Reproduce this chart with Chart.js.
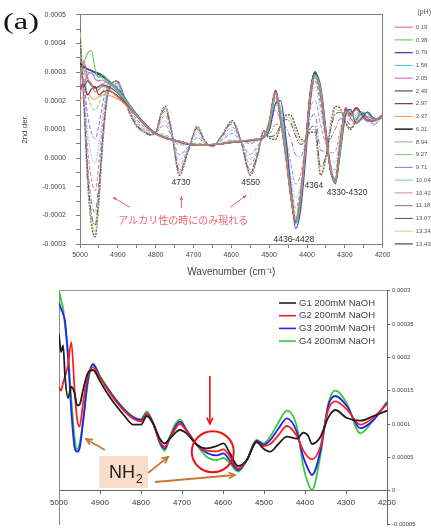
<!DOCTYPE html>
<html>
<head>
<meta charset="utf-8">
<script src="https://cdn.jsdelivr.net/npm/chart.js@4.4.1/dist/chart.umd.min.js"></script>
<style>
  html, body { margin: 0; padding: 0; background: #fff; }
  #wrap { position: relative; width: 431px; height: 532px; overflow: hidden; }
  #topChart { position: absolute; left: 0; top: 0; }
  #botChart { position: absolute; left: 0; top: 280px; }
  #tag { position: absolute; left: 3px; top: 9px; font-size: 24px; line-height: 24px;
         font-family: "Liberation Serif", serif; color: #111;
         transform: scaleX(1.35); transform-origin: 0 0; }
</style>
</head>
<body>
<div id="wrap">
  <canvas id="topChart" width="431" height="282" style="width:431px;height:282px"></canvas>
  <canvas id="botChart" width="431" height="252" style="width:431px;height:252px"></canvas>
  <div id="tag">(a)</div>
</div>
<script>
Chart.defaults.font.family = '"Liberation Sans", Arial, sans-serif';

// ---- top panel (a): 2nd derivative, values in units of 1e-4 ----
const WN_TOP = [5000, 4990, 4980, 4970, 4960, 4950, 4940, 4928, 4915, 4903, 4890, 4870, 4850, 4830, 4815, 4800, 4785, 4775, 4760, 4737, 4715, 4690, 4670, 4650, 4625, 4598, 4575, 4550, 4530, 4515, 4500, 4483, 4470, 4455, 4443, 4430, 4418, 4405, 4392, 4379, 4364, 4350, 4337, 4325, 4311, 4298, 4285, 4270, 4255, 4240, 4225, 4210, 4200];

const PH_LABELS = ['0.19', '0.38', '0.79', '1.56', '2.05', '2.49', '2.97', '3.37', '6.31', '8.94', '9.27', '9.71', '10.04', '10.42', '11.18', '13.07', '13.34', '13.43'];

const pH0_19 = [2.5, 3.4, 2.8, 2.6, 2.3, 2.4, 2.5, 2.45, 2.3, 2.15, 2.0, 1.75, 1.45, 1.18, 0.98, 0.84, 0.74, 0.69, 0.64, 0.57, 0.5, 0.45, 0.45, 0.47, 0.5, 0.55, 0.58, 0.62, 0.66, 0.74, 1.3, 2.3, 1.3, -0.1, -1.35, -2.2, -1.4, 0.3, 2.1, 2.8, 2.2, 0.8, -0.4, -0.75, 0.7, 1.75, 1.4, 1.2, 1.35, 1.45, 1.35, 1.4, 1.5];
const pH0_38 = [2.9, 3.3, 3.65, 3.75, 3.1, 2.8, 2.9, 2.75, 2.6, 2.42, 2.22, 1.86, 1.5, 1.2, 1.0, 0.85, 0.75, 0.7, 0.65, 0.58, 0.5, 0.45, 0.45, 0.47, 0.5, 0.55, 0.58, 0.62, 0.66, 0.7, 1.1, 2.3, 1.5, 0.1, -1.2, -2.2, -1.6, 0.1, 2.1, 2.9, 2.4, 0.9, -0.4, -0.85, 0.4, 1.6, 1.6, 1.3, 1.6, 1.55, 1.35, 1.35, 1.45];
const pH0_79 = [3.2, 3.15, 3.1, 3.05, 3.0, 2.95, 2.88, 2.75, 2.6, 2.45, 2.25, 1.88, 1.52, 1.22, 1.02, 0.86, 0.76, 0.7, 0.64, 0.56, 0.48, 0.44, 0.44, 0.46, 0.5, 0.54, 0.57, 0.61, 0.65, 0.7, 0.95, 1.9, 2.0, 0.6, -1.0, -2.45, -1.9, -0.2, 1.9, 2.95, 2.5, 1.0, -0.4, -0.9, 0.3, 1.5, 1.7, 1.2, 1.4, 1.6, 1.4, 1.35, 1.45];
const pH1_56 = [3.0, 3.05, 3.0, 2.95, 2.9, 2.85, 2.8, 2.68, 2.53, 2.38, 2.18, 1.84, 1.5, 1.2, 1.0, 0.85, 0.75, 0.7, 0.65, 0.58, 0.5, 0.46, 0.46, 0.48, 0.51, 0.56, 0.59, 0.63, 0.67, 0.72, 1.05, 2.1, 1.75, 0.3, -1.1, -2.3, -1.7, 0.0, 2.0, 2.85, 2.4, 0.9, -0.5, -0.85, 0.5, 1.6, 1.65, 1.25, 1.45, 1.6, 1.35, 1.35, 1.45];
const pH2_05 = [2.3, 2.6, 2.9, 3.0, 2.75, 2.7, 2.72, 2.62, 2.5, 2.36, 2.16, 1.82, 1.48, 1.19, 0.99, 0.85, 0.75, 0.7, 0.65, 0.58, 0.5, 0.45, 0.45, 0.47, 0.5, 0.55, 0.58, 0.62, 0.66, 0.72, 1.15, 2.25, 1.45, 0.05, -1.25, -2.2, -1.5, 0.15, 2.15, 2.9, 2.3, 0.8, -0.45, -0.8, 0.55, 1.65, 1.5, 1.7, 1.45, 1.3, 1.3, 1.4, 1.5];
const pH2_49 = [2.6, 2.5, 2.7, 2.55, 2.45, 2.5, 2.55, 2.5, 2.42, 2.3, 2.12, 1.8, 1.47, 1.18, 0.99, 0.85, 0.75, 0.7, 0.65, 0.58, 0.5, 0.45, 0.45, 0.47, 0.5, 0.55, 0.58, 0.62, 0.66, 0.72, 1.2, 2.35, 1.4, 0.0, -1.3, -2.2, -1.5, 0.2, 2.2, 3.0, 2.3, 0.8, -0.5, -0.8, 0.6, 1.7, 1.5, 1.75, 1.5, 1.3, 1.3, 1.4, 1.5];
const pH2_97 = [2.4, 2.6, 2.2, 2.4, 2.5, 2.2, 2.3, 2.35, 2.3, 2.2, 2.05, 1.77, 1.46, 1.17, 0.98, 0.85, 0.75, 0.7, 0.65, 0.58, 0.5, 0.45, 0.45, 0.47, 0.5, 0.55, 0.58, 0.62, 0.66, 0.72, 1.2, 2.3, 1.45, 0.05, -1.25, -2.2, -1.55, 0.15, 2.15, 2.95, 2.35, 0.85, -0.45, -0.8, 0.55, 1.75, 1.55, 1.7, 1.55, 1.3, 1.3, 1.4, 1.5];
const pH3_37 = [2.0, 2.15, 2.25, 2.1, 2.05, 2.15, 2.2, 2.2, 2.15, 2.08, 1.98, 1.74, 1.45, 1.17, 0.98, 0.85, 0.75, 0.7, 0.65, 0.58, 0.5, 0.45, 0.45, 0.47, 0.5, 0.55, 0.58, 0.62, 0.66, 0.72, 1.2, 2.3, 1.4, 0.0, -1.25, -2.15, -1.45, 0.2, 2.15, 2.9, 2.25, 0.8, -0.45, -0.75, 0.65, 1.75, 1.5, 1.75, 1.5, 1.3, 1.3, 1.4, 1.5];
const pH6_31 = [3.3, 3.2, 3.1, 3.05, 2.98, 2.92, 2.85, 2.7, 2.55, 2.4, 2.2, 1.85, 1.5, 1.2, 1.0, 0.85, 0.75, 0.7, 0.65, 0.58, 0.5, 0.45, 0.45, 0.47, 0.5, 0.55, 0.58, 0.62, 0.66, 0.72, 1.2, 2.35, 1.4, 0.0, -1.3, -2.25, -1.5, 0.2, 2.2, 3.0, 2.3, 0.8, -0.5, -0.8, 0.6, 1.7, 1.5, 1.75, 1.5, 1.3, 1.3, 1.4, 1.5];
const pH8_94 = [3.42, 3.08, 2.71, 2.5, 2.41, 2.48, 2.6, 2.64, 2.55, 2.43, 2.22, 1.84, 1.48, 1.19, 0.99, 0.85, 0.79, 0.75, 0.67, 0.52, 0.49, 0.48, 0.46, 0.47, 0.51, 0.59, 0.58, 0.56, 0.63, 0.73, 1.18, 2.27, 1.39, 0.08, -1.16, -2.08, -1.39, 0.22, 2.14, 2.9, 2.16, 0.76, -0.42, -0.67, 0.66, 1.68, 1.48, 1.73, 1.5, 1.31, 1.3, 1.4, 1.5];
const pH9_27 = [3.58, 2.92, 2.2, 1.82, 1.66, 1.9, 2.31, 2.56, 2.56, 2.44, 2.22, 1.83, 1.46, 1.17, 0.98, 0.86, 0.84, 0.81, 0.7, 0.46, 0.47, 0.52, 0.47, 0.46, 0.53, 0.63, 0.58, 0.5, 0.6, 0.74, 1.15, 2.18, 1.37, 0.15, -1.02, -1.92, -1.28, 0.24, 2.07, 2.79, 2.01, 0.72, -0.33, -0.54, 0.71, 1.65, 1.45, 1.71, 1.51, 1.31, 1.3, 1.4, 1.5];
const pH9_71 = [3.0, 2.66, 1.51, 0.88, 0.67, 1.14, 1.91, 2.46, 2.57, 2.52, 2.28, 1.75, 1.34, 1.08, 0.92, 0.87, 1.09, 1.14, 0.83, 0.11, 0.38, 0.71, 0.51, 0.44, 0.62, 0.85, 0.59, 0.13, 0.44, 0.75, 1.12, 2.1, 1.35, 0.22, -0.88, -1.75, -1.17, 0.26, 2.0, 2.68, 1.86, 0.68, -0.25, -0.41, 0.77, 1.62, 1.42, 1.57, 1.54, 1.34, 1.3, 1.4, 1.5];
const pH10_04 = [2.8, 2.5, 0.93, 0.09, -0.19, 0.48, 1.56, 2.37, 2.58, 2.57, 2.31, 1.71, 1.28, 1.04, 0.89, 0.88, 1.22, 1.31, 0.9, -0.07, 0.34, 0.81, 0.53, 0.43, 0.67, 0.96, 0.59, -0.05, 0.35, 0.78, 1.08, 1.93, 1.33, 0.38, -0.6, -1.41, -0.95, 0.3, 1.88, 2.48, 1.58, 0.6, -0.08, -0.15, 0.88, 1.58, 1.38, 1.5, 1.56, 1.36, 1.25, 1.35, 1.45];
const pH10_42 = [2.6, 2.33, 0.36, -0.71, -1.15, -0.18, 1.2, 2.28, 2.59, 2.61, 2.34, 1.68, 1.22, 0.99, 0.86, 0.89, 1.35, 1.47, 0.97, -0.25, 0.29, 0.91, 0.56, 0.42, 0.71, 1.08, 0.59, -0.23, 0.27, 0.81, 1.0, 1.67, 1.28, 0.6, -0.18, -0.91, -0.62, 0.36, 1.68, 2.0, 1.14, 0.48, 0.18, 0.24, 1.04, 1.5, 1.3, 1.44, 1.57, 1.37, 1.2, 1.3, 1.45];
const pH11_18 = [3.8, 2.17, -0.22, -1.51, -1.9, -0.84, 0.85, 2.19, 2.59, 2.66, 2.37, 1.64, 1.16, 0.95, 0.83, 0.89, 1.47, 1.64, 1.03, -0.42, 0.25, 1.0, 0.58, 0.41, 0.76, 1.19, 0.6, -0.42, 0.18, 0.88, 0.85, 1.16, 1.19, 1.05, 0.66, 0.1, 0.04, 0.48, 1.29, 1.53, 0.27, 0.24, 0.69, 1.02, 1.37, 1.35, 1.15, 1.37, 1.59, 1.39, 1.15, 1.3, 1.45];
const pH13_07 = [4.2, 2.08, -0.53, -1.93, -2.35, -1.19, 0.66, 2.14, 2.6, 2.68, 2.39, 1.62, 1.13, 0.92, 0.81, 0.9, 1.54, 1.72, 1.07, -0.52, 0.22, 1.05, 0.59, 0.41, 0.78, 1.25, 0.6, -0.51, 0.14, 0.93, 0.75, 0.82, 1.13, 1.35, 1.22, 0.77, 0.48, 0.56, 1.03, 1.11, -0.31, 0.08, 1.03, 1.54, 1.59, 1.25, 1.05, 1.34, 1.59, 1.39, 1.3, 1.4, 1.5];
const pH13_34 = [4.4, 2.03, -0.68, -2.14, -2.58, -1.37, 0.57, 2.12, 2.6, 2.69, 2.39, 1.61, 1.11, 0.91, 0.81, 0.9, 1.57, 1.77, 1.09, -0.56, 0.21, 1.08, 0.6, 0.4, 0.79, 1.28, 0.6, -0.56, 0.12, 0.94, 0.73, 0.74, 1.12, 1.43, 1.36, 0.93, 0.59, 0.58, 0.97, 1.0, -0.46, 0.04, 1.12, 1.67, 1.65, 1.23, 1.03, 1.31, 1.6, 1.4, 1.3, 1.4, 1.5];
const pH13_43 = [4.5, 2.0, -0.8, -2.3, -2.75, -1.5, 0.5, 2.1, 2.6, 2.7, 2.4, 1.6, 1.1, 0.9, 0.8, 0.9, 1.6, 1.8, 1.1, -0.6, 0.2, 1.1, 0.6, 0.4, 0.8, 1.3, 0.6, -0.6, 0.1, 0.95, 0.7, 0.65, 1.1, 1.5, 1.5, 1.1, 0.7, 0.6, 0.9, 0.9, -0.6, 0.0, 1.2, 1.8, 1.7, 1.2, 1.0, 1.3, 1.6, 1.4, 1.3, 1.4, 1.5];

const TOP_SERIES = [pH0_19, pH0_38, pH0_79, pH1_56, pH2_05, pH2_49, pH2_97, pH3_37, pH6_31,
  pH8_94, pH9_27, pH9_71, pH10_04, pH10_42, pH11_18, pH13_07, pH13_34, pH13_43];

const TOP_COLORS = ['#e8686c', '#66cc55', '#4848b8', '#55c5e0', '#d066d0', '#4d5a4d', '#7a3848', '#f0a050', '#2e2e2e',
  '#8c8c8c', '#70cc70', '#9a70d8', '#6cc8e0', '#e07aa8', '#6a78b0', '#555555', '#e6c48a', '#5c5c5c'];
const TOP_WIDTHS = [1.1, 1.1, 1.3, 1.1, 1.1, 1.2, 1.2, 1.1, 1.6, 0.8, 1, 1, 1, 1, 1, 1, 1, 1.4];
const TOP_DASHES = [[], [], [], [], [], [], [], [], [], [], [4, 2], [4, 2], [1.5, 1.5], [4, 2], [5, 2, 1, 2], [6, 1.5, 1.5, 1.5], [], [2, 1.2]];

// ---- bottom panel: G1..G4 in 200mM NaOH, values in units of 1e-5 ----
const WN_BOT = [5000, 4995, 4990, 4985, 4978, 4970, 4962, 4956, 4950, 4941, 4930, 4917, 4900, 4880, 4860, 4840, 4819, 4800, 4786, 4770, 4754, 4742, 4730, 4705, 4689, 4664, 4640, 4615, 4599, 4583, 4563, 4542, 4518, 4501, 4485, 4465, 4444, 4420, 4404, 4392, 4383, 4363, 4343, 4326, 4298, 4265, 4233, 4200];
const BOT_LABELS = ['G1 200mM NaOH', 'G2 200mM NaOH', 'G3 200mM NaOH', 'G4 200mM NaOH'];
const g1 = [23.4, 20.8, 21.8, 16.9, 13.9, 15.6, 14.6, 12.8, 12.9, 15.2, 17.6, 18.1, 16.4, 14.4, 12.7, 11.2, 9.9, 9.9, 11.2, 10.0, 7.8, 7.1, 7.8, 9.1, 8.6, 6.9, 6.35, 6.7, 7.1, 5.6, 3.7, 4.6, 7.3, 6.3, 5.85, 7.0, 8.1, 7.8, 8.7, 8.2, 7.0, 8.0, 11.0, 12.1, 10.9, 10.5, 11.2, 12.0];
const g2 = [15.6, 15.0, 16.2, 17.2, 18.8, 22.3, 15.2, 10.8, 9.6, 13.3, 17.2, 18.5, 16.9, 15.0, 13.3, 11.9, 10.8, 10.4, 11.5, 10.0, 7.4, 6.6, 7.8, 10.0, 9.0, 6.9, 6.0, 5.9, 6.2, 5.1, 3.3, 4.6, 7.3, 6.7, 7.0, 8.3, 9.7, 8.2, 6.0, 5.0, 4.7, 6.5, 12.2, 13.4, 12.2, 9.9, 11.0, 13.0];
const g3 = [28.2, 27.3, 26.5, 25.3, 20.0, 12.0, 6.5, 5.85, 6.3, 10.5, 16.5, 18.9, 17.0, 15.2, 13.5, 12.1, 11.0, 10.6, 11.6, 10.1, 7.2, 6.3, 7.9, 10.35, 9.1, 6.9, 5.7, 5.3, 5.6, 4.5, 3.1, 4.6, 7.5, 6.9, 7.6, 9.3, 10.85, 8.8, 5.0, 3.2, 2.35, 5.8, 12.8, 14.2, 12.7, 9.35, 10.6, 13.2];
const g4 = [30, 28.6, 27.3, 24.5, 20.8, 13.8, 8.0, 6.2, 7.0, 10.5, 16.0, 19.1, 17.2, 15.3, 13.6, 12.2, 11.1, 10.7, 11.85, 10.1, 7.1, 6.0, 8.1, 10.7, 9.1, 6.85, 5.1, 4.6, 4.9, 4.1, 2.85, 4.6, 7.6, 7.1, 8.1, 10.2, 12.0, 9.6, 3.6, 1.0, 0.1, 5.1, 13.1, 15.0, 13.1, 8.6, 10.6, 13.35];
const BOT_SERIES = [g1, g2, g3, g4];
const BOT_COLORS = ['#1e1e1e', '#ff1f1f', '#1f1fff', '#38c838'];

// annotation anchors (wavenumber, value)
const TOP_PEAK_TEXT = ['4730', '4550', '4364', '4330-4320', '4436-4428'];
const TOP_PEAK_AT = [[4733, -0.87e-4], [4549, -0.87e-4], [4382, -0.95e-4], [4294, -1.22e-4], [4435, -2.84e-4]];
const TOP_ARROWS = [[4868, -1.72e-4, 4913, -1.37e-4], [4732, -1.75e-4, 4732, -1.33e-4], [4603, -1.72e-4, 4560, -1.3e-4]];

function arrow(ctx, x1, y1, x2, y2, head, filled) {
  const a = Math.atan2(y2 - y1, x2 - x1);
  ctx.beginPath(); ctx.moveTo(x1, y1); ctx.lineTo(x2, y2); ctx.stroke();
  ctx.beginPath();
  ctx.moveTo(x2 - head * Math.cos(a - 0.45), y2 - head * Math.sin(a - 0.45));
  ctx.lineTo(x2, y2);
  ctx.lineTo(x2 - head * Math.cos(a + 0.45), y2 - head * Math.sin(a + 0.45));
  if (filled) { ctx.closePath(); ctx.fill(); } else ctx.stroke();
}

const topNotes = {
  id: 'topNotes',
  afterDatasetsDraw(chart) {
    const {ctx, scales: {x, y}} = chart;
    ctx.save();
    ctx.font = '8.5px "Liberation Sans"';
    ctx.fillStyle = '#333';
    ctx.textAlign = 'center';
    ctx.textBaseline = 'middle';
    TOP_PEAK_TEXT.forEach((t, i) => {
      ctx.fillText(t, x.getPixelForValue(TOP_PEAK_AT[i][0]), y.getPixelForValue(TOP_PEAK_AT[i][1]));
    });
    ctx.strokeStyle = '#e8606c';
    ctx.fillStyle = '#e8606c';
    ctx.lineWidth = 1;
    TOP_ARROWS.forEach(a => {
      arrow(ctx, x.getPixelForValue(a[0]), y.getPixelForValue(a[1]), x.getPixelForValue(a[2]), y.getPixelForValue(a[3]), 4, true);
    });
    ctx.font = '10px "Noto Sans CJK JP"';
    ctx.fillStyle = '#ee6473';
    ctx.fillText('アルカリ性の時にのみ現れる', x.getPixelForValue(4727), y.getPixelForValue(-2.17e-4));
    ctx.restore();
  }
};

const topSets = TOP_SERIES.map((s, i) => ({
  label: PH_LABELS[i],
  data: WN_TOP.map((wn, j) => ({x: wn, y: s[j] * 1e-4})),
  borderColor: TOP_COLORS[i],
  borderWidth: TOP_WIDTHS[i],
  borderDash: TOP_DASHES[i],
  pointRadius: 0,
  cubicInterpolationMode: 'monotone',
  fill: false
}));

const axisGrey = '#808080';

new Chart(document.getElementById('topChart'), {
  type: 'line',
  data: {datasets: topSets},
  options: {
    responsive: false,
    animation: false,
    layout: {padding: {top: 6, right: 0, bottom: 0, left: 0}},
    scales: {
      x: {
        type: 'linear', reverse: true, min: 4200, max: 5000,
        ticks: {stepSize: 50, autoSkip: false, maxRotation: 0, padding: 3, color: '#444', font: {size: 7},
          callback: v => (v % 100 === 0 ? String(v) : '')},
        grid: {drawOnChartArea: false, tickLength: 4, color: axisGrey},
        border: {color: axisGrey},
        title: {display: true, text: 'Wavenumber (cm⁻¹)', color: '#444', font: {size: 10}, padding: {top: 2, bottom: 3.6}},
        afterFit: s => { s.height = 38; }
      },
      xTop: {
        type: 'linear', position: 'top', reverse: true, min: 4200, max: 5000,
        ticks: {display: false}, grid: {display: false}, border: {color: axisGrey},
        afterFit: s => { s.height = 8.7; }
      },
      y: {
        min: -0.0003, max: 0.0005,
        ticks: {stepSize: 0.00005, autoSkip: false, maxTicksLimit: 100, padding: 10, color: '#444', font: {size: 7},
          callback: v => { const k = Math.round(v * 20000); return k % 2 ? '' : (k / 20000).toFixed(4); }},
        grid: {drawOnChartArea: false, tickLength: 4, color: axisGrey},
        border: {color: axisGrey},
        title: {display: true, text: '2nd der.', color: '#444', font: {size: 8}, padding: {top: 20}},
        afterFit: s => { s.width = 80; }
      },
      yRight: {
        position: 'right', min: -0.0003, max: 0.0005,
        ticks: {display: false}, grid: {display: false}, border: {color: axisGrey},
        afterFit: s => { s.width = 5.3; }
      }
    },
    plugins: {
      legend: {
        position: 'right', align: 'start', maxWidth: 43,
        title: {display: true, text: '(pH)', position: 'end', color: '#555', font: {size: 7}, padding: {top: 3, bottom: 0}},
        labels: {usePointStyle: true, pointStyle: 'line', pointStyleWidth: 18, padding: 6.75, color: '#555', font: {size: 6}}
      },
      tooltip: {enabled: false}
    }
  },
  plugins: [topNotes]
});

// ---- bottom panel ----
const botNotes = {
  id: 'botNotes',
  afterDatasetsDraw(chart) {
    const {ctx, chartArea: a, scales: {x, y}} = chart;
    const px = v => x.getPixelForValue(v);
    const py = v => y.getPixelForValue(v * 1e-5);
    ctx.save();
    // legend inside the plot
    ctx.font = '9.5px "Liberation Sans"';
    ctx.textBaseline = 'middle';
    chart.data.datasets.forEach((ds, i) => {
      const ly = a.top + 12.3 + i * 12.7;
      ctx.strokeStyle = ds.borderColor;
      ctx.lineWidth = 1.6;
      ctx.beginPath(); ctx.moveTo(a.right - 108, ly); ctx.lineTo(a.right - 91, ly); ctx.stroke();
      ctx.fillStyle = '#404040';
      ctx.fillText(ds.label, a.right - 88, ly);
    });
    // red marker
    ctx.strokeStyle = '#ee1111';
    ctx.fillStyle = '#ee1111';
    ctx.lineWidth = 1.6;
    arrow(ctx, px(4632), py(17.2), px(4632), py(10.0), 7, false);
    ctx.lineWidth = 2;
    ctx.beginPath();
    ctx.ellipse(px(4625), py(5.85), 21, 20.5, 0, 0, Math.PI * 2);
    ctx.stroke();
    // NH2 box
    ctx.fillStyle = '#fadccb';
    ctx.fillRect(px(4902), py(5.2), px(4783) - px(4902), py(0.4) - py(5.2));
    ctx.fillStyle = '#222';
    ctx.textBaseline = 'alphabetic';
    ctx.textAlign = 'left';
    ctx.font = '18px "Liberation Sans"';
    const nx = px(4878), ny = py(1.83);
    ctx.fillText('NH', nx, ny);
    const w = ctx.measureText('NH').width;
    ctx.font = '12px "Liberation Sans"';
    ctx.fillText('2', nx + w + 1, ny + 5);
    // brown arrows
    ctx.strokeStyle = '#c8783a';
    ctx.lineWidth = 1.8;
    arrow(ctx, px(4888), py(6.1), px(4934), py(7.75), 7, false);
    arrow(ctx, px(4783), py(2.66), px(4734), py(5.06), 7, false);
    arrow(ctx, px(4766), py(1.3), px(4571), py(2.35), 7, false);
    ctx.restore();
  }
};

const botSets = BOT_SERIES.map((s, i) => ({
  label: BOT_LABELS[i],
  data: WN_BOT.map((wn, j) => ({x: wn, y: s[j] * 1e-5})),
  borderColor: BOT_COLORS[i],
  borderWidth: 1.8,
  pointRadius: 0,
  cubicInterpolationMode: 'monotone',
  fill: false
}));

new Chart(document.getElementById('botChart'), {
  type: 'line',
  data: {datasets: botSets},
  options: {
    responsive: false,
    animation: false,
    layout: {padding: {top: 10.7, right: 0, bottom: 8, left: 59}},
    scales: {
      x: {
        type: 'linear', reverse: true, min: 4200, max: 5000, position: {y: 0},
        ticks: {stepSize: 100, autoSkip: false, maxRotation: 0, padding: 4, color: '#333', font: {size: 8},
          callback: v => String(v)},
        grid: {drawOnChartArea: false, tickLength: 3, color: '#666'},
        border: {color: '#666'}
      },
      xTop: {
        type: 'linear', position: 'top', reverse: true, min: 4200, max: 5000,
        ticks: {display: false}, grid: {display: false}, border: {color: '#999'},
        afterFit: s => { s.height = 0; }
      },
      y: {
        position: 'right', min: -0.00005, max: 0.0003,
        ticks: {stepSize: 0.00005, autoSkip: false, maxTicksLimit: 100, padding: 2, color: '#444', font: {size: 6},
          callback: v => { const k = Math.round(v * 20000); return k === 0 ? '0' : String(k / 20000); }},
        grid: {drawOnChartArea: false, tickLength: 3, color: '#666'},
        border: {color: '#666'},
        afterFit: s => { s.width = 44; }
      },
      yLeft: {
        position: 'left', min: -0.00005, max: 0.0003,
        ticks: {display: false}, grid: {display: false}, border: {color: '#888'},
        afterFit: s => { s.width = 0; }
      }
    },
    plugins: {
      legend: {display: false},
      tooltip: {enabled: false}
    }
  },
  plugins: [botNotes]
});
</script>
</body>
</html>
